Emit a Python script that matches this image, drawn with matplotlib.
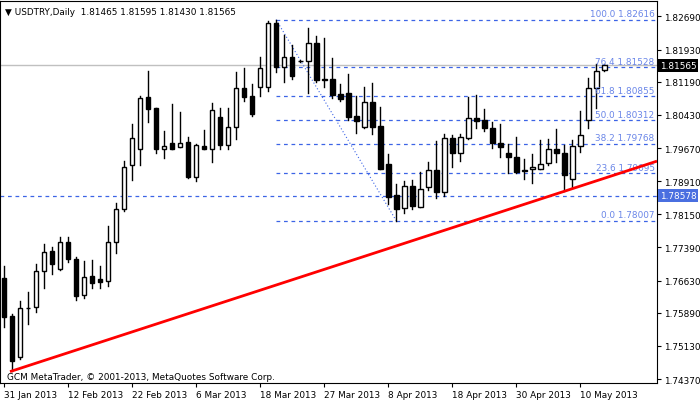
import matplotlib
matplotlib.use("Agg")
import matplotlib.pyplot as plt
from matplotlib.patches import Rectangle

# daily OHLC, USDTRY from 31 Jan 2013
opens = [1.7668, 1.7581, 1.7487, 1.7601, 1.7602, 1.7684, 1.7731, 1.7689, 1.7751, 1.7712,
         1.7629, 1.7673, 1.7666, 1.7661, 1.7751, 1.7826, 1.7927, 1.7964, 1.8083, 1.8059,
         1.7964, 1.7978, 1.7969, 1.7982, 1.7900, 1.7972, 1.7964, 1.8038, 1.7975, 1.8015,
         1.8104, 1.8086, 1.8108, 1.8108, 1.8255, 1.8154, 1.8175, 1.8167, 1.8166, 1.8207,
         1.8125, 1.8125, 1.8091, 1.8093, 1.8040, 1.8016, 1.8072, 1.8017, 1.7930, 1.7859,
         1.7829, 1.7879, 1.7831, 1.7877, 1.7917, 1.7867, 1.7989, 1.7955, 1.7989, 1.8036,
         1.8031, 1.8013, 1.7978, 1.7956, 1.7946, 1.7914, 1.7918, 1.7920, 1.7932, 1.7964,
         1.7956, 1.7897, 1.7972, 1.8031, 1.8104, 1.81465]
highs = [1.7697, 1.7586, 1.7617, 1.7636, 1.7701, 1.7747, 1.7741, 1.7764, 1.7764, 1.7718,
         1.7708, 1.7710, 1.7697, 1.7787, 1.7842, 1.7938, 1.8022, 1.8086, 1.8144, 1.8059,
         1.8006, 1.8068, 1.8050, 1.7993, 1.7976, 1.8008, 1.8070, 1.8059, 1.8059, 1.8142,
         1.8151, 1.8114, 1.8175, 1.8258, 1.82616, 1.8226, 1.8203, 1.8168, 1.8242, 1.8225,
         1.8219, 1.8173, 1.8114, 1.8137, 1.8087, 1.8108, 1.8116, 1.8062, 1.7953, 1.7884,
         1.7892, 1.7894, 1.7913, 1.7935, 1.7984, 1.7999, 1.7998, 1.7999, 1.8083, 1.8089,
         1.8057, 1.8027, 1.8022, 1.7976, 1.7993, 1.7942, 1.7953, 1.7985, 1.7988, 1.8011,
         1.7974, 1.7986, 1.8052, 1.8128, 1.8160, 1.81595]
lows = [1.7556, 1.7456, 1.7483, 1.7563, 1.7590, 1.7647, 1.7678, 1.7688, 1.7705, 1.7619,
        1.7622, 1.7647, 1.7647, 1.7651, 1.7726, 1.7823, 1.7894, 1.7927, 1.8027, 1.7956,
        1.7945, 1.7964, 1.7969, 1.7898, 1.7892, 1.7964, 1.7934, 1.7965, 1.7965, 1.7988,
        1.8076, 1.8041, 1.8087, 1.8099, 1.8142, 1.8119, 1.8125, 1.8165, 1.8093, 1.8118,
        1.8106, 1.8082, 1.8076, 1.8032, 1.8001, 1.8012, 1.8000, 1.7919, 1.7839, 1.78007,
        1.7819, 1.7827, 1.7831, 1.7871, 1.7852, 1.7856, 1.7924, 1.7938, 1.7988, 1.8014,
        1.8007, 1.7966, 1.7946, 1.7910, 1.7910, 1.7896, 1.7887, 1.7919, 1.7927, 1.7936,
        1.7869, 1.7877, 1.7957, 1.8014, 1.8060, 1.81430]
closes = [1.7579, 1.7478, 1.7599, 1.7600, 1.7684, 1.7728, 1.7702, 1.7751, 1.7712, 1.7627,
          1.7671, 1.7658, 1.7660, 1.7751, 1.7826, 1.7923, 1.7989, 1.8082, 1.8056, 1.7964,
          1.7972, 1.7964, 1.7978, 1.7901, 1.7974, 1.7964, 1.8054, 1.7975, 1.8015, 1.8105,
          1.8085, 1.8044, 1.8150, 1.8255, 1.8154, 1.8175, 1.8133, 1.8166, 1.8207, 1.8123,
          1.8124, 1.8089, 1.8079, 1.8039, 1.8030, 1.8072, 1.8016, 1.7919, 1.7854, 1.7827,
          1.7881, 1.7833, 1.7873, 1.7917, 1.7867, 1.7989, 1.7955, 1.7993, 1.8036, 1.8030,
          1.8012, 1.7978, 1.7969, 1.7946, 1.7913, 1.7917, 1.7923, 1.7930, 1.7964, 1.7955,
          1.7905, 1.7972, 1.7998, 1.8104, 1.8144, 1.81565]

tick_idx = [0, 8, 16, 24, 32, 40, 48, 56, 64, 72]
tick_labels = ["31 Jan 2013", "12 Feb 2013", "22 Feb 2013", "6 Mar 2013", "18 Mar 2013",
               "27 Mar 2013", "8 Apr 2013", "18 Apr 2013", "30 Apr 2013", "10 May 2013"]
price_ticks = [1.82690, 1.81930, 1.81190, 1.80430, 1.79670, 1.78910,
               1.78150, 1.77390, 1.76630, 1.75890, 1.75130, 1.74370]

fib_pct = [0.0, 23.6, 38.2, 50.0, 61.8, 76.4, 100.0]
fib_price = [1.78007, 1.79095, 1.79768, 1.80312, 1.80855, 1.81528, 1.82616]
fib_from = 34   # bar of the swing high
fib_to = 49     # bar of the swing low

trend_x = [0.75, 81.6]
trend_y = [1.7454, 1.7937]
hline_price = 1.78578
bid = 1.81565

BLUE = "#3c64e6"
FS = 6.4
fig = plt.figure(figsize=(7, 4.02), dpi=100)
ax = fig.add_axes([0.0, 0.0448, 0.9386, 0.950])
xmax = 81.6
ax.set_xlim(-0.5, xmax)
ax.set_ylim(1.74279, 1.83042)

# candles
for i, (o, h, l, c) in enumerate(zip(opens, highs, lows, closes)):
    ax.plot([i, i], [l, h], color="black", lw=1, zorder=3)
    bottom, top = min(o, c), max(o, c)
    face = "white" if c >= o else "black"
    height = max(top - bottom, 0.00004)
    ax.add_patch(Rectangle((i - 0.3, bottom), 0.6, height, facecolor=face,
                           edgecolor="black", lw=1, zorder=4))

# fibonacci retracement
for pct, p in zip(fib_pct, fib_price):
    ax.plot([fib_from, xmax], [p, p], color=BLUE, lw=0.9, ls=(0, (3, 3)), zorder=2)
    ax.text(xmax - 0.3, p + 0.0003, f"{pct:.1f} {p:.5f}", color="#6a86e8",
            fontsize=FS, ha="right", va="bottom", zorder=5)
ax.plot([fib_from, fib_to], [fib_price[-1], fib_price[0]], color=BLUE, lw=0.8,
        ls=(0, (1, 2)), zorder=2)

ax.axhline(hline_price, color=BLUE, lw=0.9, ls=(0, (3, 3)), zorder=2)
ax.axhline(bid, color="#c0c0c0", lw=1, zorder=1)
ax.plot(trend_x, trend_y, color="red", lw=2, zorder=6, solid_capstyle="butt")

ax.yaxis.tick_right()
ax.set_yticks(price_ticks)
ax.set_yticklabels([f"{p:.5f}" for p in price_ticks], fontsize=FS)
ax.set_xticks(tick_idx)
ax.set_xticklabels(tick_labels, fontsize=FS, ha="left")
ax.tick_params(length=3, width=0.8, pad=2)
for s in ax.spines.values():
    s.set_linewidth(0.8)

ax.text(1.004, bid, f"{bid:.5f}", transform=ax.get_yaxis_transform(), fontsize=FS,
        color="white", va="center", ha="left",
        bbox=dict(facecolor="black", edgecolor="none", pad=1.5))
ax.text(1.004, hline_price, f"{hline_price:.5f}", transform=ax.get_yaxis_transform(),
        fontsize=FS, color="white", va="center", ha="left",
        bbox=dict(facecolor="#4a6fe0", edgecolor="none", pad=1.5))

ax.text(0.008, 0.985, "\u25bc USDTRY,Daily  1.81465 1.81595 1.81430 1.81565",
        transform=ax.transAxes, fontsize=FS, va="top", ha="left")
ax.text(0.01, 0.005, "GCM MetaTrader, \u00a9 2001-2013, MetaQuotes Software Corp.",
        transform=ax.transAxes, fontsize=FS, va="bottom", ha="left")

fig.savefig("out.png", dpi=100)
